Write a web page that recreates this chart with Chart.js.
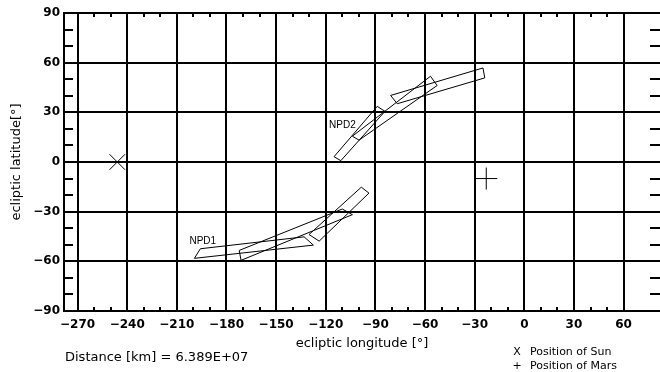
<!DOCTYPE html>
<html><head><meta charset="utf-8">
<script src="https://cdn.jsdelivr.net/npm/chart.js@4"></script>
<style>html,body{margin:0;padding:0;background:#fff}canvas{display:block}</style>
</head><body>
<canvas id="c" width="660" height="372"></canvas>
<script>
// ---- data ----
const xTickValues = [-270,-240,-210,-180,-150,-120,-90,-60,-30,0,30,60];
const yTickValues = [-90,-60,-30,0,30,60,90];
const xMinorTicks = [-260,-250,-230,-220,-200,-190,-170,-160,-140,-130,-110,-100,-80,-70,-50,-40,-20,-10,10,20,40,50];
const yMinorTicks = [-80,-70,-50,-40,-20,-10,10,20,40,50,70,80];

const npd1Sector1 = [[-199.4,-58.2],[-195.8,-52.4],[-133.1,-45.2],[-127.5,-50.2]];
const npd1Sector2 = [[-172.3,-53.4],[-110.0,-28.4],[-103.9,-31.8],[-171.2,-59.4]];
const npd1Sector3 = [[-130.1,-43.8],[-98.5,-15.2],[-93.9,-18.8],[-124.0,-47.8]];
const npd2Sector1 = [[-115.0,3.2],[-88.9,33.6],[-84.2,30.6],[-110.9,0.8]];
const npd2Sector2 = [[-103.9,15.6],[-56.7,51.8],[-52.7,46.2],[-99.9,13.2]];
const npd2Sector3 = [[-80.8,40.2],[-25.0,56.8],[-23.9,50.8],[-76.8,35.2]];

const sunPosition = [-246, 0];
const marsPosition = [-23, -10];

const npdLabels = ['NPD1', 'NPD2'];
const npdLabelPositions = [[-202.4, -48], [-118, 22.2]];

const distanceText = 'Distance [km] = 6.389E+07';
const xTitle = 'ecliptic longitude [°]';
const yTitle = 'ecliptic latitude[°]';

// ---- build ----
const toPts = arr => arr.map(([x, y]) => ({x, y}));
const closed = arr => toPts(arr.concat([arr[0]]));
const polyDS = arr => ({
  type: 'scatter', data: closed(arr), showLine: true, pointRadius: 0,
  borderColor: '#000', borderWidth: 1, fill: false, tension: 0
});

const fmt = v => String(v).replace('-', '\u2212');

const overlay = {
  id: 'overlay',
  afterDraw(chart) {
    const ctx = chart.ctx, xs = chart.scales.x, ys = chart.scales.y, a = chart.chartArea;
    ctx.save();
    ctx.strokeStyle = '#000';
    ctx.lineWidth = 2;
    ctx.beginPath();
    xMinorTicks.forEach(v => {
      const px = Math.round(xs.getPixelForValue(v));
      ctx.moveTo(px, a.top); ctx.lineTo(px, a.top + 4);
      ctx.moveTo(px, a.bottom); ctx.lineTo(px, a.bottom - 4);
    });
    yMinorTicks.forEach(v => {
      const py = Math.round(ys.getPixelForValue(v));
      ctx.moveTo(a.left, py); ctx.lineTo(a.left + 9, py);
      ctx.moveTo(a.right, py); ctx.lineTo(a.right - 10, py);
    });
    ctx.stroke();
    ctx.fillStyle = '#000';
    ctx.textBaseline = 'middle';
    ctx.font = '10px "Liberation Sans", Arial, sans-serif';
    ctx.textAlign = 'left';
    npdLabels.forEach((t, i) => {
      const [lx, ly] = npdLabelPositions[i];
      ctx.fillText(t, xs.getPixelForValue(lx), ys.getPixelForValue(ly));
    });
    ctx.font = '13px "DejaVu Sans", sans-serif';
    ctx.fillText(distanceText, 65, 358);
    ctx.font = '11px "DejaVu Sans", sans-serif';
    ctx.textAlign = 'center';
    ctx.fillText('X', 517, 352);
    ctx.fillText('+', 517, 366);
    ctx.textAlign = 'left';
    ctx.fillText('Position of Sun', 530, 352);
    ctx.fillText('Position of Mars', 530, 366);
    ctx.restore();
  }
};

const tickFont = {family: 'DejaVu Sans', size: 12, weight: 'bold'};

new Chart(document.getElementById('c'), {
  type: 'scatter',
  data: {
    datasets: [
      polyDS(npd1Sector1), polyDS(npd1Sector2), polyDS(npd1Sector3),
      polyDS(npd2Sector1), polyDS(npd2Sector2), polyDS(npd2Sector3),
      {type: 'scatter', data: toPts([sunPosition]), pointStyle: 'crossRot', pointRadius: 11,
       borderColor: '#000', borderWidth: 1},
      {type: 'scatter', data: toPts([marsPosition]), pointStyle: 'cross', pointRadius: 11,
       borderColor: '#000', borderWidth: 1}
    ]
  },
  options: {
    responsive: false, animation: false,
    layout: {autoPadding: false, padding: {top: 13, right: -2, left: 0, bottom: 0}},
    plugins: {legend: {display: false}, tooltip: {enabled: false}},
    scales: {
      x: {
        type: 'linear', min: -278.2, max: 82, position: 'bottom',
        afterBuildTicks: s => { s.ticks = xTickValues.map(v => ({value: v})); },
        afterFit: s => { s.height = 61; },
        ticks: {callback: v => fmt(v), font: tickFont, color: '#000', padding: 7, maxRotation: 0, autoSkip: false},
        grid: {color: '#000', lineWidth: 2, drawTicks: false},
        border: {display: true, color: '#000', width: 2},
        title: {display: true, text: xTitle, color: '#000', font: {family: 'DejaVu Sans', size: 13}, padding: {top: 0, bottom: 21}}
      },
      y: {
        type: 'linear', min: -90, max: 90, position: 'left',
        afterBuildTicks: s => { s.ticks = yTickValues.map(v => ({value: v})); },
        afterFit: s => { s.width = 64; },
        ticks: {callback: v => fmt(v), font: tickFont, color: '#000', padding: 4, autoSkip: false},
        grid: {color: '#000', lineWidth: 2, drawTicks: false},
        border: {display: true, color: '#000', width: 2},
        title: {display: true, text: yTitle, color: '#000', font: {family: 'DejaVu Sans', size: 13}, padding: {top: 9, bottom: 0}}
      }
    }
  },
  plugins: [overlay]
});
</script>
</body></html>
